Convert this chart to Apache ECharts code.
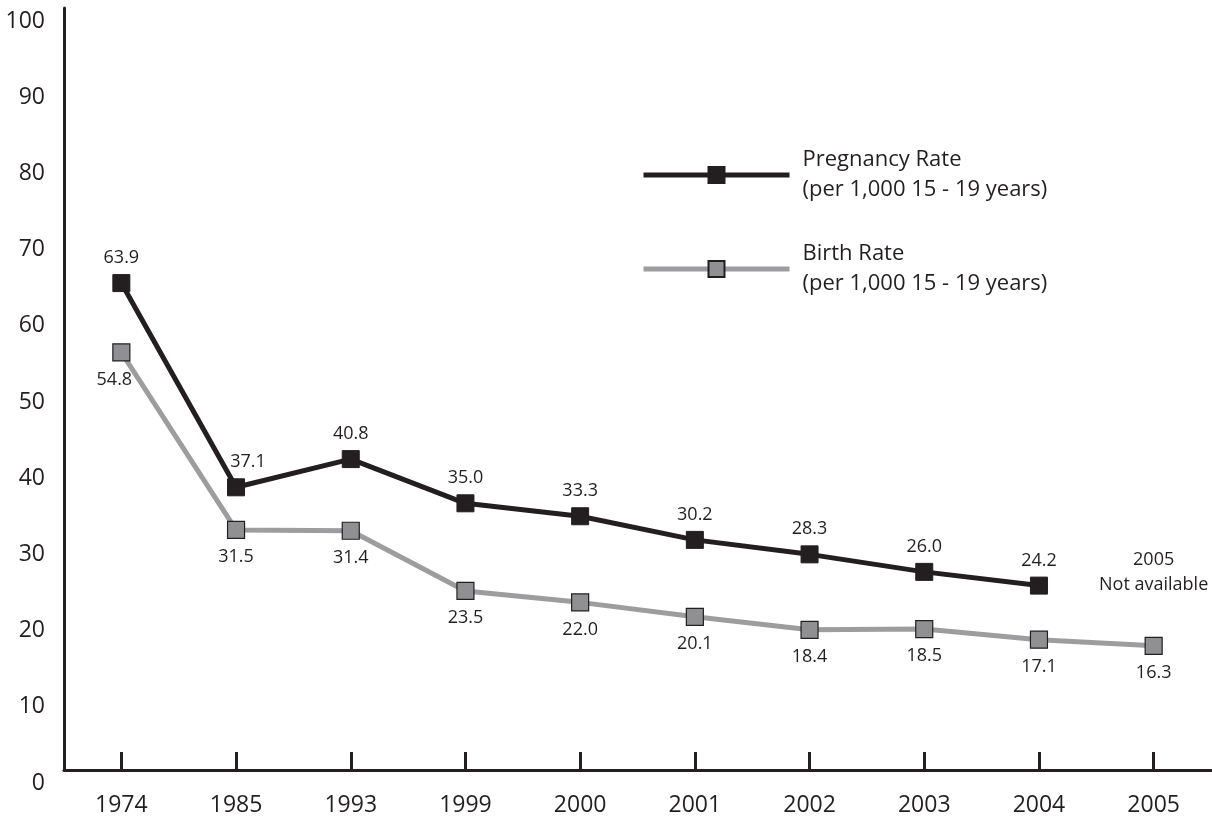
<!DOCTYPE html>
<html><head><meta charset="utf-8">
<script src="https://cdn.jsdelivr.net/npm/echarts@6/dist/echarts.min.js"></script>
<style>html,body{margin:0;padding:0;background:#fff}#c{width:1212px;height:817px}</style>
</head><body><div id="c"></div>
<script>
const categories = ['1974','1985','1993','1999','2000','2001','2002','2003','2004','2005'];
const pregnancyRate = [63.9, 37.1, 40.8, 35.0, 33.3, 30.2, 28.3, 26.0, 24.2, null];
const birthRate = [54.8, 31.5, 31.4, 23.5, 22.0, 20.1, 18.4, 18.5, 17.1, 16.3];
const yTicks = [0,10,20,30,40,50,60,70,80,90,100];
const seriesNames = ['Pregnancy Rate\n(per 1,000 15 - 19 years)', 'Birth Rate\n(per 1,000 15 - 19 years)'];
const noteText = '2005\nNot available';

const dark = '#231f20';
const FONT = 'Open Sans';
const chart = echarts.init(document.getElementById('c'));
chart.setOption({
  animation: false,
  textStyle: {fontFamily: FONT, color: dark},
  grid: {left: 64, top: 8, width: 1147, bottom: 46.5, containLabel: false},
  legend: {
    orient: 'vertical', left: 636, top: 140,
    itemWidth: 146, itemHeight: 20, itemGap: 34,
    data: seriesNames,
    lineStyle: {width: 5},
    textStyle: {fontFamily: FONT, fontSize: 22, color: dark, lineHeight: 30, padding: [0,0,0,8]},
    selectedMode: false
  },
  xAxis: {
    type: 'category', data: categories, boundaryGap: true,
    axisLine: {lineStyle: {color: dark, width: 3}},
    axisTick: {show: true, inside: true, alignWithLabel: true, length: 18, lineStyle: {color: dark, width: 3}},
    axisLabel: {fontFamily: FONT, fontSize: 23, color: dark, margin: 24, interval: 0}
  },
  yAxis: {
    type: 'value', min: 0, max: 100, interval: 10,
    axisLine: {show: true, lineStyle: {color: dark, width: 3}},
    axisTick: {show: false},
    splitLine: {show: false},
    axisLabel: {fontFamily: FONT, fontSize: 23, color: dark, margin: 19, verticalAlign: 'top', lineHeight: 26,
      formatter: v => yTicks.includes(v) ? String(v) : ''}
  },
  series: [
    {
      name: seriesNames[0], type: 'line', data: pregnancyRate,
      symbol: 'rect', symbolSize: 17,
      lineStyle: {color: dark, width: 5},
      itemStyle: {color: dark, borderColor: dark, borderWidth: 1},
      label: {show: true, position: 'top', distance: 7, fontFamily: FONT, fontSize: 18, color: dark,
        formatter: p => p.value.toFixed(1)},
      labelLayout: p => p.dataIndex === 1 ? {dx: 12} : {},
      markPoint: {
        symbol: 'rect', symbolSize: 1, itemStyle: {color: 'rgba(0,0,0,0)'},
        data: [{coord: [9, 26], value: 0}],
        label: {show: true, position: 'inside', fontFamily: FONT, fontSize: 18, color: dark, lineHeight: 25, formatter: noteText}
      },
      z: 3
    },
    {
      name: seriesNames[1], type: 'line', data: birthRate,
      symbol: 'rect', symbolSize: 17,
      lineStyle: {color: '#9d9d9f', width: 5},
      itemStyle: {color: '#909093', borderColor: dark, borderWidth: 1.2},
      label: {show: true, position: 'bottom', distance: 9, fontFamily: FONT, fontSize: 18, color: dark,
        formatter: p => p.value.toFixed(1)},
      labelLayout: p => p.dataIndex === 0 ? {dx: -7} : {},
      z: 2
    }
  ]
});
</script></body></html>
